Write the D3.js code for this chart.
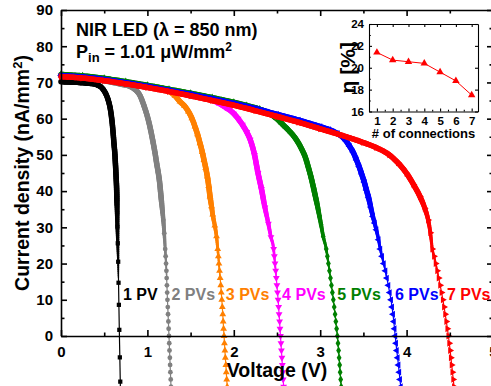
<!DOCTYPE html>
<html>
<head>
<meta charset="utf-8">
<script src="https://cdn.jsdelivr.net/npm/d3@7"></script>
<style>
  html, body { margin: 0; padding: 0; background: #fff; overflow: hidden; }
  svg { display: block; font-family: "Liberation Sans", Arial, sans-serif; font-weight: bold; }
</style>
</head>
<body>
<svg id="chart" width="491" height="386"></svg>
<script>
// ---- J–V data: [voltage (V), current density (nA/mm^2)] ----
const seriesLabels = ["1 PV", "2 PVs", "3 PVs", "4 PVs", "5 PVs", "6 PVs", "7 PVs"];

const pv1 = [[0,70.2],[0.1,70.1],[0.2,70.0],[0.3,69.8],[0.35,69.7],[0.4,69.5],[0.43,69.2],[0.46,68.8],[0.49,68.0],[0.52,66.8],[0.548,65.0],[0.57,62.8],[0.587,60.0],[0.598,57.5],[0.607,55.0],[0.615,52.6],[0.622,50.8],[0.628,48.4],[0.634,45.8],[0.639,43.3],[0.644,40.5],[0.647,37.5],[0.650,34.1],[0.653,30.2],[0.657,25.6],[0.662,20.5],[0.666,14.7],[0.670,8.6],[0.675,1.7],[0.681,-5.9],[0.686,-12.6],[0.692,-19.5]];

const pv2 = [[0,71.8],[0.2,71.5],[0.4,70.9],[0.6,70.0],[0.7,69.5],[0.8,68.9],[0.85,68.2],[0.914,66.4],[0.96,63.6],[1.01,59.7],[1.04,56.6],[1.068,53.2],[1.09,50.3],[1.107,47.7],[1.125,45.2],[1.138,43.1],[1.152,39.9],[1.165,36.7],[1.175,34.3],[1.184,32.0],[1.195,28.4],[1.206,24],[1.211,22],[1.216,20],[1.220,18],[1.223,16],[1.226,14],[1.229,12],[1.232,10],[1.236,8],[1.239,6],[1.243,4],[1.246,2],[1.250,0],[1.253,-2],[1.256,-4],[1.260,-6],[1.263,-8],[1.266,-10],[1.270,-12],[1.273,-14]];

const pv3 = [[0,72.0],[0.25,71.5],[0.5,70.8],[0.75,69.9],[1.0,68.8],[1.15,68.1],[1.26,67.4],[1.32,66.3],[1.377,64.7],[1.43,63.5],[1.474,62.0],[1.515,60.1],[1.551,57.8],[1.58,55.7],[1.609,53.2],[1.635,50.8],[1.655,48.6],[1.675,46.4],[1.694,44.0],[1.71,41.4],[1.725,38.5],[1.742,35.8],[1.756,33.5],[1.78,30.5],[1.80,27.5],[1.814,24],[1.821,22],[1.828,20],[1.835,18],[1.842,16],[1.849,14],[1.855,12],[1.861,10],[1.867,8],[1.872,6],[1.877,4],[1.882,2],[1.887,0],[1.892,-2],[1.897,-4],[1.902,-6],[1.908,-8],[1.913,-10],[1.918,-12],[1.924,-14]];

const pv4 = [[0,71.9],[0.25,71.5],[0.5,70.8],[0.75,69.9],[1.0,68.9],[1.25,67.8],[1.5,66.6],[1.65,65.8],[1.8,64.6],[1.9,63.2],[2.0,61.4],[2.05,60.0],[2.1,58.3],[2.15,56.3],[2.19,54.2],[2.24,50.0],[2.28,45.0],[2.32,40.6],[2.36,35.5],[2.40,31.0],[2.43,27.3],[2.461,24],[2.469,22],[2.477,20],[2.485,18],[2.492,16],[2.499,14],[2.506,12],[2.513,10],[2.519,8],[2.524,6],[2.530,4],[2.535,2],[2.540,0],[2.546,-2],[2.551,-4],[2.557,-6],[2.562,-8],[2.567,-10],[2.572,-12],[2.577,-14]];

const pv5 = [[0,72.2],[0.25,71.8],[0.5,71.1],[0.75,70.2],[1.0,69.2],[1.25,68.1],[1.5,67.0],[1.75,65.8],[2.0,64.5],[2.15,63.6],[2.3,62.6],[2.4,61.6],[2.46,60.7],[2.52,59.5],[2.57,58.3],[2.63,56.9],[2.69,55.3],[2.74,53.6],[2.79,51.4],[2.83,49.2],[2.86,46.8],[2.89,44.2],[2.92,41.2],[2.945,38.5],[2.97,35.7],[2.99,33.2],[3.01,30.7],[3.035,27.5],[3.070,24],[3.083,22],[3.095,20],[3.107,18],[3.119,16],[3.130,14],[3.141,12],[3.152,10],[3.162,8],[3.172,6],[3.181,4],[3.190,2],[3.199,0],[3.206,-2],[3.213,-4],[3.219,-6],[3.225,-8],[3.231,-10],[3.237,-12],[3.243,-14]];

const pv6 = [[0,71.9],[0.25,71.5],[0.5,70.8],[0.75,69.9],[1.0,68.9],[1.25,67.8],[1.5,66.7],[1.75,65.5],[2.0,64.2],[2.25,62.8],[2.5,61.2],[2.75,59.6],[3.0,57.8],[3.1,57.0],[3.2,55.9],[3.26,54.9],[3.3,53.8],[3.34,52.4],[3.38,50.8],[3.42,48.6],[3.45,46.8],[3.48,44.7],[3.51,42.5],[3.535,40.3],[3.56,38.2],[3.585,35.6],[3.61,33.0],[3.63,31.2],[3.65,29.3],[3.675,26.6],[3.695,24],[3.715,22],[3.735,20],[3.754,18],[3.771,16],[3.788,14],[3.804,12],[3.819,10],[3.831,8],[3.842,6],[3.852,4],[3.860,2],[3.868,0],[3.877,-2],[3.886,-4],[3.896,-6],[3.905,-8],[3.914,-10],[3.923,-12],[3.932,-14]];

const pv7 = [[0,71.6],[0.25,71.2],[0.5,70.5],[0.75,69.6],[1.0,68.6],[1.25,67.5],[1.5,66.3],[1.75,65.0],[2.0,63.7],[2.25,62.2],[2.5,60.6],[2.75,59.0],[3.0,57.2],[3.25,55.4],[3.5,53.4],[3.65,52.0],[3.8,50.0],[3.9,47.8],[4.0,44.9],[4.08,41.8],[4.155,38.5],[4.21,35.3],[4.25,32.0],[4.275,28.5],[4.298,24],[4.318,22],[4.337,20],[4.355,18],[4.372,16],[4.389,14],[4.405,12],[4.420,10],[4.434,8],[4.447,6],[4.460,4],[4.472,2],[4.484,0],[4.494,-2],[4.504,-4],[4.513,-6],[4.522,-8],[4.531,-10],[4.540,-12],[4.549,-14]];

const seriesData = [pv1, pv2, pv3, pv4, pv5, pv6, pv7];

const xTicks = [0, 1, 2, 3, 4, 5];
const xMinorTicks = [0.5, 1.5, 2.5, 3.5, 4.5];
const yTicks = [0, 10, 20, 30, 40, 50, 60, 70, 80, 90];
const yMinorTicks = [5, 15, 25, 35, 45, 55, 65, 75, 85];

// inset: efficiency vs number of series connections
const connections = [1, 2, 3, 4, 5, 6, 7];
const efficiency = [21.4, 20.7, 20.55, 20.4, 19.6, 18.8, 17.5];
const insetXTicks = [1, 2, 3, 4, 5, 6, 7];
const insetXMinor = [1.5, 2.5, 3.5, 4.5, 5.5, 6.5];
const insetYTicks = [16, 18, 20, 22, 24];
const insetYMinor = [17, 19, 21, 23];

// ---- styling ----
const colors = ["#000000", "#808080", "#ff8000", "#ff00ff", "#008000", "#0000ff", "#ff0000"];
const symbols = [
  { type: d3.symbolSquare, size: 18, rot: 0 },
  { type: d3.symbolCircle, size: 18, rot: 0 },
  { type: d3.symbolTriangle, size: 20, rot: 0 },
  { type: d3.symbolTriangle, size: 20, rot: 180 },
  { type: d3.symbolDiamond, size: 20, rot: 0 },
  { type: d3.symbolTriangle, size: 20, rot: -90 },
  { type: d3.symbolTriangle, size: 20, rot: 90 }
];

const svg = d3.select("#chart");
const x = d3.scaleLinear().domain([0, 5]).range([61, 493]);
const y = d3.scaleLinear().domain([0, 90]).range([336, 10]);

const axisStroke = 1.6;
function styleAxis(g) {
  g.selectAll("path, line").attr("stroke", "#000").attr("stroke-width", axisStroke);
  g.selectAll("text").attr("font-size", 15).attr("font-weight", "bold")
    .attr("font-family", "'Liberation Sans', Arial, sans-serif").attr("fill", "#000");
}

// ---- curves ----
// Where the symbols sit closely they merge into a band; the band thins
// out on the steep part of each curve where symbols separate.
const bandWidth = J => J >= 38 ? 5.5 : J <= 16 ? 0 : 1.2 + (J - 16) / 22 * 4.3;
const curves = svg.append("g");
const line = d3.line().x(d => x(d[0])).y(d => y(d[1])).curve(d3.curveMonotoneX);

seriesData.forEach((pts, i) => {
  const g = curves.append("g");
  const bandG = g.append("g");
  const full = g.append("path").attr("d", line(pts)).attr("fill", "none")
    .attr("stroke", colors[i]).attr("stroke-width", 1.2);
  const node = full.node();
  const L = node.getTotalLength();
  const samples = [];
  for (let s = 0; s <= L; s += 1) { const p = node.getPointAtLength(s); samples.push([p.x, p.y]); }
  const segs = [];
  for (let k = 0; k + 2 < samples.length; k += 2) {
    const a = samples[k], b = samples[k + 2];
    const w = bandWidth(y.invert((a[1] + b[1]) / 2));
    if (w > 1.2) segs.push({ a, b, w });
  }
  bandG.selectAll("line").data(segs).join("line")
    .attr("x1", d => d.a[0]).attr("y1", d => d.a[1])
    .attr("x2", d => d.b[0]).attr("y2", d => d.b[1])
    .attr("stroke", colors[i]).attr("stroke-width", d => d.w)
    .attr("stroke-linecap", "round");
  const sym = d3.symbol().type(symbols[i].type).size(symbols[i].size);
  g.selectAll("path.m").data(pts).join("path").attr("class", "m")
    .attr("d", sym)
    .attr("transform", d => `translate(${x(d[0])},${y(d[1])}) rotate(${symbols[i].rot})`)
    .attr("fill", colors[i]);
});

// ---- axes (ticks point inward on all four sides) ----
const gBottom = svg.append("g").attr("transform", `translate(0,${y(0)})`)
  .call(d3.axisBottom(x).tickValues(xTicks).tickSizeInner(-6).tickSizeOuter(0).tickPadding(10).tickFormat(d3.format("d")));
gBottom.call(styleAxis);
svg.append("g").attr("transform", `translate(0,${y(0)})`)
  .call(d3.axisBottom(x).tickValues(xMinorTicks).tickSize(-3.5).tickFormat(""))
  .call(g => g.select(".domain").remove()).call(styleAxis);

const gTop = svg.append("g").attr("transform", `translate(0,${y(90)})`)
  .call(d3.axisTop(x).tickValues(xTicks).tickSizeInner(-6).tickSizeOuter(0).tickFormat(""));
gTop.call(styleAxis);
svg.append("g").attr("transform", `translate(0,${y(90)})`)
  .call(d3.axisTop(x).tickValues(xMinorTicks).tickSize(-3.5).tickFormat(""))
  .call(g => g.select(".domain").remove()).call(styleAxis);

const gLeft = svg.append("g").attr("transform", `translate(${x(0)},0)`)
  .call(d3.axisLeft(y).tickValues(yTicks).tickSizeInner(-6).tickSizeOuter(0).tickPadding(8));
gLeft.call(styleAxis);
svg.append("g").attr("transform", `translate(${x(0)},0)`)
  .call(d3.axisLeft(y).tickValues(yMinorTicks).tickSize(-3.5).tickFormat(""))
  .call(g => g.select(".domain").remove()).call(styleAxis);

svg.append("g").attr("transform", `translate(${x(5)},0)`)
  .call(d3.axisRight(y).tickValues(yTicks).tickSizeInner(-6).tickSizeOuter(0).tickFormat(""))
  .call(styleAxis);
svg.append("g").attr("transform", `translate(${x(5)},0)`)
  .call(d3.axisRight(y).tickValues(yMinorTicks).tickSize(-3.5).tickFormat(""))
  .call(g => g.select(".domain").remove()).call(styleAxis);

// ---- axis titles ----
svg.append("text").attr("x", (x(0) + x(5)) / 2).attr("y", 377)
  .attr("text-anchor", "middle").attr("font-size", 19.5).text("Voltage (V)");

const yTitle = svg.append("text")
  .attr("transform", `translate(29,${(y(0) + y(90)) / 2}) rotate(-90)`)
  .attr("text-anchor", "middle").attr("font-size", 19.5);
yTitle.append("tspan").text("Current density (nA/mm");
yTitle.append("tspan").attr("dy", -7).attr("font-size", 13).text("2");
yTitle.append("tspan").attr("dy", 7).text(")");

// ---- series labels next to each curve, near J = 10 ----
seriesData.forEach((pts, i) => {
  const near = pts.reduce((a, b) => Math.abs(b[1] - 10) < Math.abs(a[1] - 10) ? b : a);
  svg.append("text").attr("x", x(near[0]) + 4).attr("y", 300)
    .attr("font-size", 16).attr("fill", colors[i]).text(seriesLabels[i]);
});

// ---- condition text ----
svg.append("text").attr("x", 76).attr("y", 36).attr("font-size", 18).text("NIR LED (λ = 850 nm)");
const pin = svg.append("text").attr("x", 76).attr("y", 58).attr("font-size", 18);
pin.append("tspan").text("P");
pin.append("tspan").attr("dy", 4).attr("font-size", 13).text("in");
pin.append("tspan").attr("dy", -4).text(" = 1.01 μW/mm");
pin.append("tspan").attr("dy", -7).attr("font-size", 12).text("2");

// ---- inset ----
const ix = d3.scaleLinear().domain([0.5, 7.4]).range([369, 478]);
const iy = d3.scaleLinear().domain([16, 24]).range([111.5, 24]);
const inset = svg.append("g");

function styleInset(g) {
  g.selectAll("path, line").attr("stroke", "#000").attr("stroke-width", 1.1);
  g.selectAll("text").attr("font-size", 11.5).attr("font-weight", "bold")
    .attr("font-family", "'Liberation Sans', Arial, sans-serif").attr("fill", "#000");
}
inset.append("g").attr("transform", `translate(0,${iy(16)})`)
  .call(d3.axisBottom(ix).tickValues(insetXTicks).tickSizeInner(-3).tickSizeOuter(0).tickPadding(5).tickFormat(d3.format("d")))
  .call(styleInset);
inset.append("g").attr("transform", `translate(0,${iy(16)})`)
  .call(d3.axisBottom(ix).tickValues(insetXMinor).tickSize(-1.8).tickFormat(""))
  .call(g => g.select(".domain").remove()).call(styleInset);
inset.append("g").attr("transform", `translate(0,${iy(24)})`)
  .call(d3.axisTop(ix).tickValues(insetXTicks).tickSizeInner(-3).tickSizeOuter(0).tickFormat(""))
  .call(styleInset);
inset.append("g").attr("transform", `translate(${ix(0.5)},0)`)
  .call(d3.axisLeft(iy).tickValues(insetYTicks).tickSizeInner(-3).tickSizeOuter(0).tickPadding(5))
  .call(styleInset);
inset.append("g").attr("transform", `translate(${ix(0.5)},0)`)
  .call(d3.axisLeft(iy).tickValues(insetYMinor).tickSize(-1.8).tickFormat(""))
  .call(g => g.select(".domain").remove()).call(styleInset);
inset.append("g").attr("transform", `translate(${ix(7.4)},0)`)
  .call(d3.axisRight(iy).tickValues(insetYTicks).tickSizeInner(-3).tickSizeOuter(0).tickFormat(""))
  .call(styleInset);

const effPts = connections.map((c, i) => [c, efficiency[i]]);
inset.append("path").attr("d", d3.line().x(d => ix(d[0])).y(d => iy(d[1]))(effPts))
  .attr("fill", "none").attr("stroke", "#ff0000").attr("stroke-width", 1);
inset.selectAll("path.tri").data(effPts).join("path").attr("class", "tri")
  .attr("d", d3.symbol().type(d3.symbolTriangle).size(24))
  .attr("transform", d => `translate(${ix(d[0])},${iy(d[1])})`)
  .attr("fill", "#ff0000");

inset.append("text").attr("x", (ix(0.5) + ix(7.4)) / 2).attr("y", 138)
  .attr("text-anchor", "middle").attr("font-size", 13).text("# of connections");
inset.append("text")
  .attr("transform", `translate(355,${(iy(16) + iy(24)) / 2}) rotate(-90)`)
  .attr("text-anchor", "middle").attr("font-size", 21).text("η [%]");
</script>
</body>
</html>
